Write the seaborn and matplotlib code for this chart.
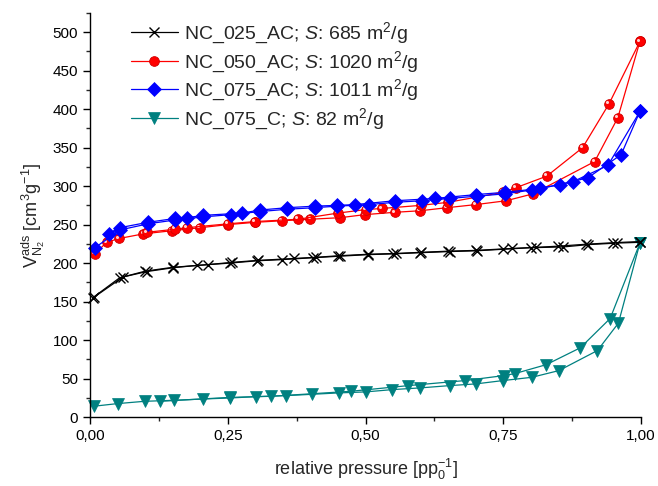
import matplotlib
matplotlib.use("Agg")
import matplotlib.pyplot as plt
from matplotlib.lines import Line2D
from matplotlib.ticker import MultipleLocator, FixedLocator, FixedFormatter
from matplotlib.transforms import offset_copy
import seaborn as sns
import pandas as pd

# N2 physisorption isotherms: adsorption and desorption branches
x_025_ads = [0.005, 0.054, 0.103, 0.151, 0.194, 0.254, 0.303, 0.348, 0.405, 0.454, 0.505,
             0.55, 0.599, 0.653, 0.702, 0.75, 0.80, 0.859, 0.904, 0.956, 0.998]
y_025_ads = [155, 181, 189, 194, 197, 200, 203, 204.5, 207, 209, 211,
             212, 213.5, 215, 216, 218, 220, 221, 224, 226, 227]
x_025_des = [0.998, 0.95, 0.90, 0.85, 0.81, 0.765, 0.70, 0.65, 0.60, 0.555, 0.505,
             0.45, 0.41, 0.37, 0.305, 0.258, 0.214, 0.15, 0.10, 0.06, 0.008]
y_025_des = [228, 226.5, 224.5, 222, 220.5, 219, 216.5, 215.5, 214, 212.5, 211.5,
             209.5, 207.5, 206, 203.5, 201, 198, 194.5, 189.5, 182, 156]

x_050_ads = [0.009, 0.03, 0.053, 0.097, 0.148, 0.20, 0.25, 0.30, 0.348, 0.40, 0.454,
             0.499, 0.553, 0.599, 0.648, 0.70, 0.755, 0.804, 0.916, 0.958, 0.998]
y_050_ads = [212, 227, 232, 238, 242, 246, 250, 253, 255, 257, 259,
             263, 266, 268, 272, 276, 281, 290, 332, 389, 488]
x_050_des = [0.998, 0.942, 0.894, 0.829, 0.773, 0.75, 0.65, 0.60, 0.53, 0.50, 0.45,
             0.378, 0.30, 0.25, 0.176, 0.154, 0.103]
y_050_des = [488, 407, 350, 313, 298, 292, 279, 275, 271, 269.5, 265,
             257, 254, 251, 246, 244, 240]

x_075_ads = [0.009, 0.054, 0.105, 0.154, 0.205, 0.256, 0.309, 0.358, 0.408, 0.448, 0.506,
             0.553, 0.602, 0.653, 0.702, 0.753, 0.802, 0.853, 0.904, 0.964, 0.998]
y_075_ads = [220, 243, 251, 256, 260, 263, 267, 270, 272, 274, 276,
             279, 281, 284, 287, 290, 295, 302, 311, 341, 397]
x_075_des = [0.998, 0.94, 0.877, 0.817, 0.753, 0.70, 0.626, 0.553, 0.481, 0.448, 0.408,
             0.358, 0.309, 0.276, 0.205, 0.176, 0.154, 0.105, 0.054, 0.035]
y_075_des = [397, 327, 306, 297, 292, 289, 284, 281, 276, 275, 274,
             272, 269, 265, 262, 259, 258, 253, 246, 238]

x_075c_ads = [0.007, 0.05, 0.099, 0.152, 0.205, 0.254, 0.302, 0.356, 0.403, 0.451, 0.50,
              0.549, 0.599, 0.653, 0.70, 0.749, 0.802, 0.851, 0.921, 0.959, 0.998]
y_075c_ads = [14, 17.4, 20.4, 21.7, 23.4, 24.7, 26.5, 27.8, 29.5, 31.3, 32.6,
              35.6, 37.8, 40.8, 43, 47.3, 51.6, 60.3, 86.4, 122, 226]
x_075c_des = [0.998, 0.944, 0.89, 0.828, 0.771, 0.751, 0.68, 0.578, 0.473, 0.329, 0.254, 0.127]
y_075c_des = [226, 128, 90, 68, 56.4, 53.8, 47.3, 40.8, 33.4, 26.9, 25.5, 20.4]

labels = [r"NC_025_AC; $\mathit{S}$: 685 m$^2$/g",
          r"NC_050_AC; $\mathit{S}$: 1020 m$^2$/g",
          r"NC_075_AC; $\mathit{S}$: 1011 m$^2$/g",
          r"NC_075_C; $\mathit{S}$: 82 m$^2$/g"]
x_ticks = [0.0, 0.25, 0.5, 0.75, 1.0]
x_tick_labels = ["0,00", "0,25", "0,50", "0,75", "1,00"]
y_ticks = [0, 50, 100, 150, 200, 250, 300, 350, 400, 450, 500]

sns.set_theme(style="ticks")
plt.rcParams["font.family"] = ["Liberation Sans", "DejaVu Sans"]
plt.rcParams["mathtext.fontset"] = "custom"
plt.rcParams["mathtext.rm"] = "Liberation Sans"
plt.rcParams["mathtext.it"] = "Liberation Sans:italic"
plt.rcParams["mathtext.bf"] = "Liberation Sans:bold"

fig = plt.figure(figsize=(6.58, 4.86), dpi=100)
ax = fig.add_axes([90 / 658, 69 / 486, 551 / 658, 404 / 486])

styles = [
    dict(color="black", marker="x", ms=7.5, mew=1.0, mfc="black", mec="black"),
    dict(color="#ff0000", marker="o", ms=7.0, mew=0.6, mfc="#ff0000", mec="#d00000"),
    dict(color="#0000ff", marker="D", ms=6.8, mew=0.5, mfc="#0000ff", mec="#0000ff"),
    dict(color="#008080", marker="v", ms=8.0, mew=0.5, mfc="#008080", mec="#008080"),
]
branches = [
    [(x_025_ads, y_025_ads), (x_025_des, y_025_des)],
    [(x_050_ads, y_050_ads), (x_050_des, y_050_des)],
    [(x_075_ads, y_075_ads), (x_075_des, y_075_des)],
    [(x_075c_ads, y_075c_ads), (x_075c_des, y_075c_des)],
]

# teal series first so it sits underneath the others
order = [3, 0, 1, 2]
highlight_tr = offset_copy(ax.transData, fig=fig, x=-1.3, y=1.3, units="points")
for i in order:
    st = styles[i]
    for bx, by in branches[i]:
        df = pd.DataFrame({"p": bx, "v": by})
        sns.lineplot(data=df, x="p", y="v", ax=ax, sort=False, estimator=None,
                     color=st["color"], lw=0.9, marker=st["marker"],
                     markersize=st["ms"], markeredgewidth=st["mew"],
                     markerfacecolor=st["mfc"], markeredgecolor=st["mec"],
                     clip_on=False, legend=False)
        if i == 1:
            # small specular highlight on the red spheres
            ax.plot(bx, by, ls="none", marker="o", ms=2.2, mfc="#ffd0d0", mec="none",
                    transform=highlight_tr, clip_on=False)

ax.set_xlim(0, 1.0)
ax.set_ylim(0, 525)
ax.xaxis.set_major_locator(FixedLocator(x_ticks))
ax.xaxis.set_major_formatter(FixedFormatter(x_tick_labels))
ax.xaxis.set_minor_locator(MultipleLocator(0.125))
ax.yaxis.set_major_locator(FixedLocator(y_ticks))
ax.yaxis.set_minor_locator(MultipleLocator(25))
ax.tick_params(which="major", direction="out", length=5, width=1, labelsize=11, colors="black")
ax.tick_params(which="minor", direction="out", length=3, width=1)
for s in ["top", "right"]:
    ax.spines[s].set_visible(False)
for s in ["left", "bottom"]:
    ax.spines[s].set_linewidth(1.0)
    ax.spines[s].set_color("black")

ax.set_xlabel(r"relative pressure [pp$_0^{-1}$]", fontsize=13, labelpad=10)
ax.set_ylabel(r"V$^{\mathrm{ads}}_{\mathrm{N_2}}$ [cm$^3$g$^{-1}$]", fontsize=13, labelpad=4)

handles = [
    Line2D([], [], color=st["color"], lw=0.9, marker=st["marker"], markersize=st["ms"],
           markeredgewidth=st["mew"], markerfacecolor=st["mfc"], markeredgecolor=st["mec"])
    for st in styles
]
leg = ax.legend(handles, labels, loc="upper left", bbox_to_anchor=(0.06, 1.0),
                frameon=False, fontsize=14, handlelength=2.4, handletextpad=0.35,
                labelspacing=0.17, borderaxespad=0.0)

fig.savefig("out.png", dpi=100)
